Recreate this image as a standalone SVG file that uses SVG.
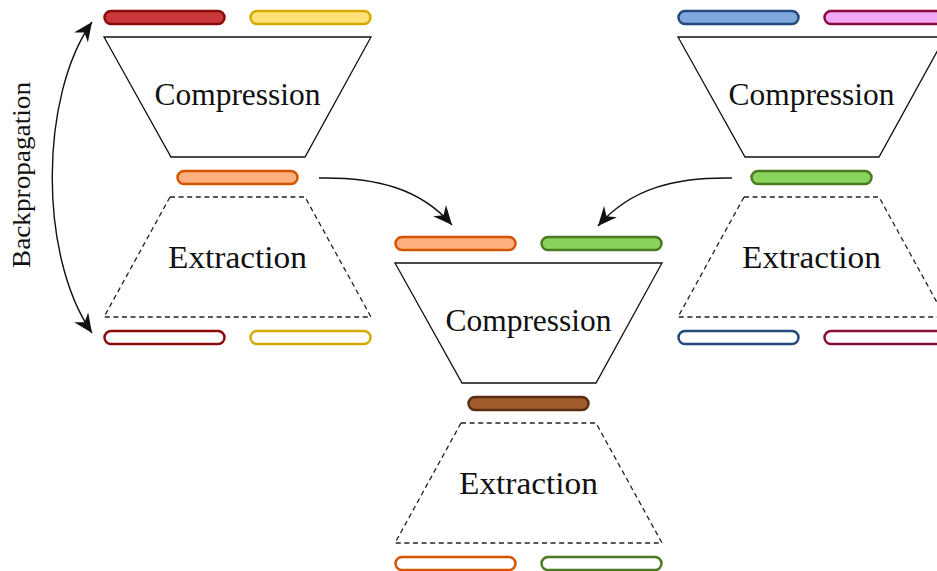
<svg xmlns="http://www.w3.org/2000/svg" width="937" height="571" viewBox="0 0 937 571">
<style>
.bar{stroke-width:2.5}
.comp{fill:none;stroke:#111;stroke-width:1.3}
.ext{fill:none;stroke:#222;stroke-width:1.3;stroke-dasharray:5 3.6}
.lbl{font-family:"Liberation Serif","DejaVu Serif",serif;font-size:31px;fill:#111;text-anchor:middle}
.conn{fill:none;stroke:#111;stroke-width:1.4}
.red{fill:#c8373a;stroke:#8b0a0a}
.redo{fill:#fff;stroke:#8b0a0a}
.yel{fill:#ffe277;stroke:#d4aa00}
.yelo{fill:#fff;stroke:#d4aa00}
.ora{fill:#ffb07e;stroke:#d45500}
.orao{fill:#fff;stroke:#d45500}
.grn{fill:#89d35c;stroke:#4a7a22}
.grno{fill:#fff;stroke:#4a7a22}
.blu{fill:#80a8dd;stroke:#234a7c}
.bluo{fill:#fff;stroke:#234a7c}
.pnk{fill:#f0a8f6;stroke:#8a0a3c}
.pnko{fill:#fff;stroke:#8a0a3c}
.brn{fill:#a05a2c;stroke:#5a2c14}
</style>
<defs>
<marker id="ah" viewBox="-21 -10 22 20" refX="0" refY="0" markerWidth="22" markerHeight="20" markerUnits="userSpaceOnUse" orient="auto-start-reverse">
<path d="M0,0 L-19,-8.5 L-13,0 L-19,8.5 Z" fill="#111"/>
</marker>
</defs>

<g id="block-left">
<g id="left-in-a"><rect class="bar red" x="104.5" y="11" width="120" height="13" rx="6.5"/></g>
<g id="left-in-b"><rect class="bar yel" x="250.5" y="11" width="120" height="13" rx="6.5"/></g>
<g id="left-compression"><path class="comp" d="M104,37 L371,37 L305,157 L171,157 Z"/><text class="lbl" x="237.5" y="105" textLength="166" lengthAdjust="spacingAndGlyphs">Compression</text></g>
<g id="left-code"><rect class="bar ora" x="177.5" y="171" width="120" height="13" rx="6.5"/></g>
<g id="left-extraction"><path class="ext" d="M170,197 L305,197 L371,317 L104,317 Z"/><text class="lbl" x="237.5" y="268" textLength="139" lengthAdjust="spacingAndGlyphs">Extraction</text></g>
<g id="left-out-a"><rect class="bar redo" x="104.5" y="331" width="120" height="13" rx="6.5"/></g>
<g id="left-out-b"><rect class="bar yelo" x="250.5" y="331" width="120" height="13" rx="6.5"/></g>
</g>

<g id="block-middle" transform="translate(291,226)">
<g id="mid-in-a"><rect class="bar ora" x="104.5" y="11" width="120" height="13" rx="6.5"/></g>
<g id="mid-in-b"><rect class="bar grn" x="250.5" y="11" width="120" height="13" rx="6.5"/></g>
<g id="mid-compression"><path class="comp" d="M104,37 L371,37 L305,157 L171,157 Z"/><text class="lbl" x="237.5" y="105" textLength="166" lengthAdjust="spacingAndGlyphs">Compression</text></g>
<g id="mid-code"><rect class="bar brn" x="177.5" y="171" width="120" height="13" rx="6.5"/></g>
<g id="mid-extraction"><path class="ext" d="M170,197 L305,197 L371,317 L104,317 Z"/><text class="lbl" x="237.5" y="268" textLength="139" lengthAdjust="spacingAndGlyphs">Extraction</text></g>
<g id="mid-out-a"><rect class="bar orao" x="104.5" y="331" width="120" height="13" rx="6.5"/></g>
<g id="mid-out-b"><rect class="bar grno" x="250.5" y="331" width="120" height="13" rx="6.5"/></g>
</g>

<g id="block-right" transform="translate(574,0)">
<g id="right-in-a"><rect class="bar blu" x="104.5" y="11" width="120" height="13" rx="6.5"/></g>
<g id="right-in-b"><rect class="bar pnk" x="250.5" y="11" width="120" height="13" rx="6.5"/></g>
<g id="right-compression"><path class="comp" d="M104,37 L371,37 L305,157 L171,157 Z"/><text class="lbl" x="237.5" y="105" textLength="166" lengthAdjust="spacingAndGlyphs">Compression</text></g>
<g id="right-code"><rect class="bar grn" x="177.5" y="171" width="120" height="13" rx="6.5"/></g>
<g id="right-extraction"><path class="ext" d="M170,197 L305,197 L371,317 L104,317 Z"/><text class="lbl" x="237.5" y="268" textLength="139" lengthAdjust="spacingAndGlyphs">Extraction</text></g>
<g id="right-out-a"><rect class="bar bluo" x="104.5" y="331" width="120" height="13" rx="6.5"/></g>
<g id="right-out-b"><rect class="bar pnko" x="250.5" y="331" width="120" height="13" rx="6.5"/></g>
</g>

<g id="connectors">
<path class="conn" d="M92,22 C40,95 38,255 92,333" marker-start="url(#ah)" marker-end="url(#ah)"/>
<path class="conn" d="M319,178 C375,177 420,188 452,225" marker-end="url(#ah)"/>
<path class="conn" d="M732,178 C676,177 631,188 598,226" marker-end="url(#ah)"/>
<text x="0" y="0" transform="translate(30,175) rotate(-90)" style="font-family:'Liberation Serif','DejaVu Serif',serif;font-size:25px;fill:#111;text-anchor:middle" textLength="186" lengthAdjust="spacingAndGlyphs">Backpropagation</text>
</g>
</svg>
